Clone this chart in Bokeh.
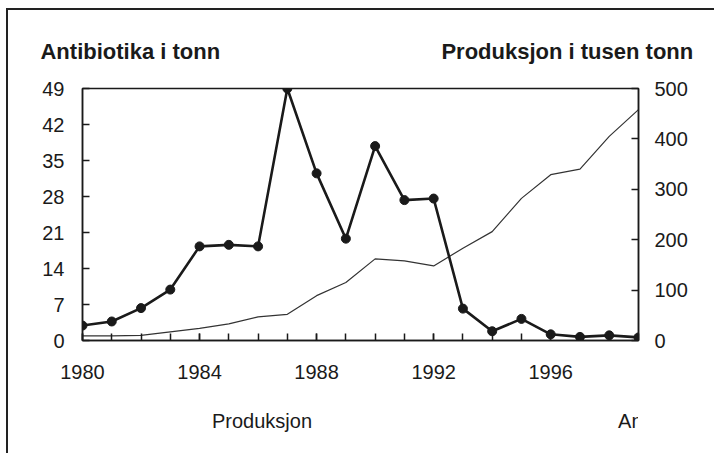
from bokeh.plotting import figure
from bokeh.layouts import column
from bokeh.models import Range1d, LinearAxis, FixedTicker, Legend, LegendItem
from bokeh.embed import file_html
from bokeh.resources import INLINE

years = list(range(1980, 2000))
antibiotika = [2.9, 3.7, 6.3, 9.9, 18.3, 18.6, 18.3, 49.0, 32.5, 19.8,
               37.8, 27.3, 27.6, 6.2, 1.8, 4.2, 1.2, 0.7, 1.0, 0.6]
produksjon = [9, 9, 10, 17, 24, 33, 47, 52, 89, 115,
              162, 158, 148, 183, 216, 282, 329, 340, 405, 458]
left_ticks = [0, 7, 14, 21, 28, 35, 42, 49]
right_ticks = [0, 100, 200, 300, 400, 500]
x_label_ticks = [1980, 1984, 1988, 1992, 1996]
left_title = "Antibiotika i tonn"
right_title = "Produksjon i tusen tonn"
legend_labels = ["Produksjon", "Antibiotika"]

FONT = "Liberation Sans"
INK = "#1a1a1a"
PROD_STYLE = dict(line_color="#333333", line_width=1.2)
AB_STYLE = dict(line_color=INK, line_width=2.6)

p = figure(width=708, height=385, output_backend="svg", toolbar_location=None,
           x_range=Range1d(1980, 1999), y_range=Range1d(0, 49),
           min_border_left=74, min_border_right=78, min_border_top=78, min_border_bottom=55)
p.extra_y_ranges = {"prod": Range1d(0, 500)}
p.extra_x_ranges = {"head": Range1d(0, 1)}
p.styles = {"border-left": "2px solid #222", "border-top": "2px solid #222",
            "margin-left": "6px", "margin-top": "8px"}
p.background_fill_color = "white"
p.border_fill_color = "white"
p.outline_line_color = INK
p.outline_line_width = 1.5
p.grid.visible = False

xa = p.xaxis[0]
xa.ticker = FixedTicker(ticks=x_label_ticks, minor_ticks=years)
xa.major_tick_in = 7
xa.major_tick_out = 0
xa.minor_tick_in = 7
xa.minor_tick_out = 0
xa.major_label_standoff = 24

ya = p.yaxis[0]
ya.ticker = FixedTicker(ticks=left_ticks)
ya.major_tick_in = 7
ya.major_tick_out = 0
ya.minor_tick_line_color = None
ya.major_label_standoff = 18

ra = LinearAxis(y_range_name="prod", ticker=FixedTicker(ticks=right_ticks))
ra.major_tick_in = 7
ra.major_tick_out = 0
ra.minor_tick_line_color = None
ra.major_label_standoff = 16
p.add_layout(ra, "right")

for ax in [xa, ya, ra]:
    ax.axis_line_color = INK
    ax.axis_line_width = 1.5
    ax.major_tick_line_color = INK
    ax.major_tick_line_width = 1.5
    ax.minor_tick_line_width = 1.5
    ax.major_label_text_font = FONT
    ax.major_label_text_font_size = "20px"
    ax.major_label_text_color = INK
xa.minor_tick_line_color = INK

# headings as labels of an unlined axis above the frame
head_pos = [0.086, 0.872]
ha = LinearAxis(x_range_name="head", ticker=FixedTicker(ticks=head_pos),
                major_label_overrides={head_pos[0]: left_title, head_pos[1]: right_title})
ha.axis_line_color = None
ha.major_tick_line_color = None
ha.minor_tick_line_color = None
ha.major_label_standoff = 19
ha.major_label_text_font = FONT
ha.major_label_text_font_size = "22px"
ha.major_label_text_font_style = "bold"
ha.major_label_text_color = INK
p.add_layout(ha, "above")

p.line(years, produksjon, y_range_name="prod", **PROD_STYLE)
p.line(years, antibiotika, **AB_STYLE)
p.scatter(years, antibiotika, size=9, fill_color=INK, line_color=INK)

# legend strip below the chart
lg = figure(width=708, height=60, output_backend="svg", toolbar_location=None,
            x_range=Range1d(0, 1), y_range=Range1d(0, 1),
            x_axis_location=None, y_axis_location=None, min_border=0)
lg.styles = {"border-left": "2px solid #222", "margin-left": "6px"}
lg.grid.visible = False
lg.outline_line_color = None
lg.background_fill_color = "white"
lg.border_fill_color = "white"
key_prod = lg.line([], [], **PROD_STYLE)
key_ab = lg.line([], [], **AB_STYLE)
legend = Legend(items=[LegendItem(label=legend_labels[0], renderers=[key_prod]),
                       LegendItem(label=legend_labels[1], renderers=[key_ab])],
                location=(74, 20), orientation="horizontal",
                glyph_width=42, glyph_height=24, label_width=0, label_height=24,
                label_standoff=14, spacing=250, padding=0, margin=0,
                border_line_color=None, background_fill_alpha=0,
                label_text_font=FONT, label_text_font_size="20px", label_text_color=INK)
lg.add_layout(legend)

page = column(p, lg, spacing=0)
open("out.html", "w").write(file_html(page, INLINE))
